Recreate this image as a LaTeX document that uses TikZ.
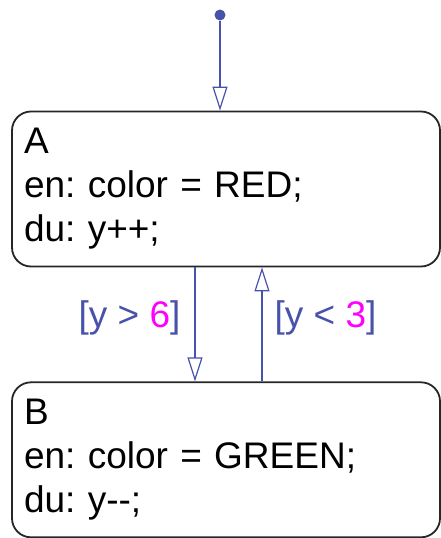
\documentclass[tikz,border=0pt]{standalone}
\usepackage{fontspec}
\setmainfont{Liberation Sans}
\usetikzlibrary{arrows.meta, positioning}
\definecolor{transblue}{RGB}{72,82,170}
\definecolor{guardnum}{RGB}{255,0,255}
\frenchspacing

\begin{document}
\begin{tikzpicture}[
    x=1pt, y=-1pt,
    node distance=114pt,
    state/.style={draw=black!85, line width=1.8pt, rounded corners=19pt, minimum width=428pt, minimum height=155pt, align=left, text width=404pt, inner xsep=12pt, font=\fontsize{37}{44}\selectfont},
    trans/.style={-{Triangle[open, length=24pt, width=15pt]}, line width=1.2pt, draw=transblue},
    guard/.style={font=\fontsize{37}{44}\selectfont, text=transblue, inner sep=0pt},
]
\useasboundingbox (0,0) rectangle (441,538);
\node[state] (stateA) at (226,189) {A\\en: color = RED;\\du: y++;};
\node[state, below=of stateA] (stateB) {B\\en: color = GREEN;\\du: y-{}-;};
\node[circle, fill=transblue, inner sep=0pt, minimum size=11pt] (init) at (220,15) {};
\draw[trans] (init) -- (init |- stateA.north);
\draw[trans] (stateA.south -| 195,0) -- (stateB.north -| 195,0)
    node[guard, midway, left=14pt, yshift=6pt] {[y > {\color{guardnum}6}]};
\draw[trans] (stateB.north -| 262,0) -- (stateA.south -| 262,0)
    node[guard, midway, right=12pt, yshift=6pt] {[y < {\color{guardnum}3}]};
\end{tikzpicture}
\end{document}
